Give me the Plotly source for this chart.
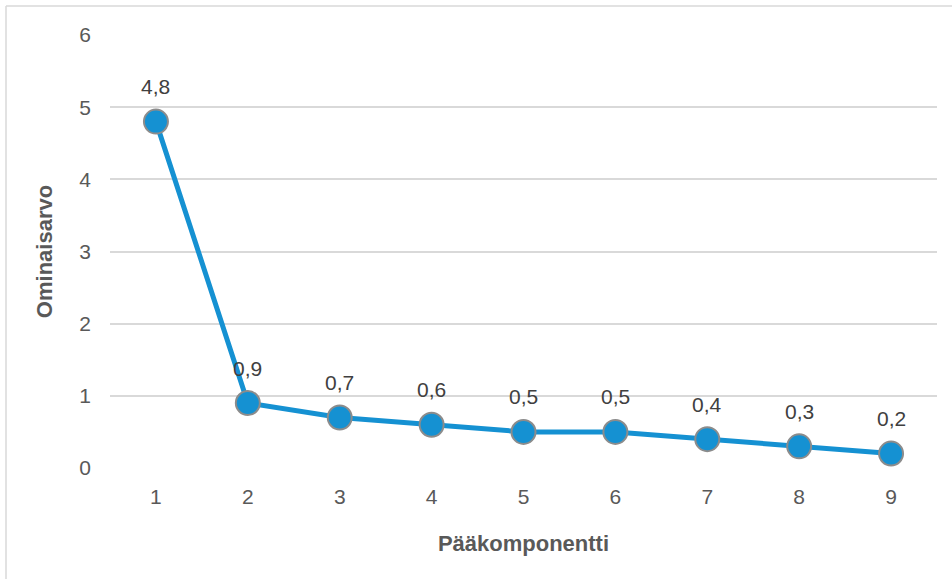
import plotly.graph_objects as go

components = [1, 2, 3, 4, 5, 6, 7, 8, 9]
eigenvalues = [4.8, 0.9, 0.7, 0.6, 0.5, 0.5, 0.4, 0.3, 0.2]
labels = [f"{v:.1f}".replace(".", ",") for v in eigenvalues]

L, R, T, B = 110, 15, 35, 111
W, H = 952, 579
pw, ph = W - L - R, H - T - B

font_fam = "Liberation Sans Narrow, Arial Narrow, Liberation Sans, sans-serif"
bold_fam = "Liberation Sans, Arial, sans-serif"

fig = go.Figure()
fig.add_trace(go.Scatter(
    x=components, y=eigenvalues, mode="lines+markers",
    line=dict(color="#1591D2", width=5),
    marker=dict(size=24, color="#1591D2", line=dict(color="#8C8C8C", width=2)),
    cliponaxis=False, showlegend=False, hoverinfo="x+y",
))

for c, v, t in zip(components, eigenvalues, labels):
    fig.add_annotation(x=c, y=v, text=t, showarrow=False, yshift=35,
                       yanchor="middle",
                       font=dict(size=21, color="#404040", family=font_fam))

# outer chart border (left and top visible)
x0 = (6 - L) / pw
y1 = (H - B - 6) / ph
fig.add_shape(type="line", xref="paper", yref="paper", x0=x0, x1=x0, y0=-1, y1=y1,
              line=dict(color="#D9D9D9", width=1.5))
fig.add_shape(type="line", xref="paper", yref="paper", x0=x0, x1=2, y0=y1, y1=y1,
              line=dict(color="#D9D9D9", width=1.5))

fig.update_layout(
    width=W, height=H,
    margin=dict(l=L, r=R, t=T, b=B),
    paper_bgcolor="white", plot_bgcolor="white",
    font=dict(family=font_fam, color="#595959"),
    xaxis=dict(
        range=[0.5, 9.5], tickmode="array", tickvals=components,
        ticktext=[str(c) for c in components],
        showgrid=False, zeroline=False,
        showline=False, ticks="", ticklabelstandoff=14,
        tickfont=dict(size=21, color="#595959"),
        title=dict(text="<b>Pääkomponentti</b>", standoff=28,
                   font=dict(size=22, color="#595959", family=bold_fam)),
    ),
    yaxis=dict(
        range=[0, 6], dtick=1, showgrid=True, gridcolor="#D9D9D9", gridwidth=1.5,
        zeroline=False, showline=False, ticks="", ticklabelstandoff=18,
        tickfont=dict(size=21, color="#595959"),
        title=dict(text="<b>Ominaisarvo</b>", standoff=20,
                   font=dict(size=22, color="#595959", family=bold_fam)),
    ),
)

fig.write_html("out.html", config={"displayModeBar": False},
               post_script="document.body.style.margin='0';")
